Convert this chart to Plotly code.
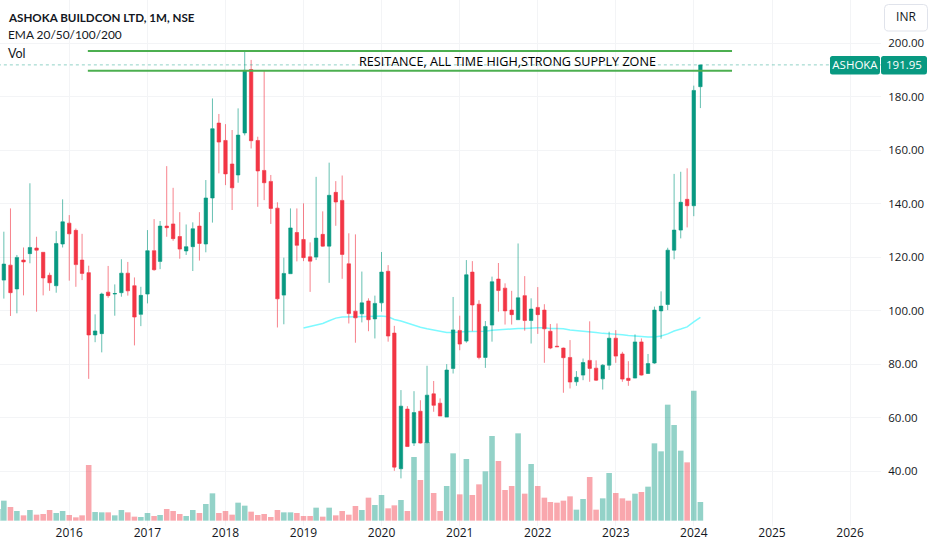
import pandas as pd
import plotly.graph_objects as go

# monthly bars, Mar 2015 to Feb 2024
dates = pd.date_range("2015-03-01", periods=108, freq="MS")
vol_dates = pd.date_range("2015-02-01", periods=109, freq="MS")

opens = [111.5, 117.1, 108.2, 119.0, 121.4, 123.5, 121.9, 113.3, 109.4, 125.0,
         132.8, 130.1, 119.0, 114.3, 91.0, 91.5, 107.0, 106.3, 106.8, 114.1, 109.4, 98.7,
         106.3, 122.5, 118.5, 131.7, 132.5, 127.8, 122.4, 124.0, 131.7, 125.0, 142.2, 170.2,
         163.7, 154.9, 150.8, 166.5, 190.2, 163.7, 152.5, 148.4, 138.4, 105.9, 113.9, 129.3,
         126.7, 120.2, 120.1, 128.6, 124.2, 144.3, 141.3, 117.6, 99.9, 98.9, 103.7, 97.0,
         103.0, 114.8, 91.7, 41.0, 63.3, 50.6, 62.5, 50.8, 69.0, 65.5, 60.3, 78.5,
         92.7, 88.7, 114.5, 102.5, 82.6, 94.7, 111.9, 108.5, 100.3, 96.7, 105.7, 96.4,
         101.3, 100.3, 92.4, 86.8, 86.1, 82.6, 73.5, 76.0, 81.5, 78.6, 74.6, 79.7,
         89.8, 83.9, 74.8, 74.9, 88.4, 76.6, 80.5, 100.0, 102.4, 122.7, 130.2, 141.7,
         139.3, 183.8]
highs = [129.6, 138.3, 120.9, 123.7, 147.7, 127.7, 121.9, 114.3, 129.8, 141.7,
         135.8, 130.8, 128.8, 116.9, 98.7, 106.8, 116.8, 109.9, 119.3, 118.3, 112.5, 109.0,
         130.2, 134.3, 133.6, 154.1, 146.0, 136.9, 132.3, 133.1, 136.9, 148.9, 179.4, 173.6,
         169.8, 167.6, 175.7, 196.9, 193.8, 165.1, 189.8, 150.8, 140.6, 119.9, 138.3, 138.3,
         140.2, 125.6, 150.1, 137.2, 155.4, 148.5, 150.6, 129.0, 128.6, 114.7, 104.7, 105.7,
         122.0, 117.1, 94.4, 70.4, 64.4, 70.0, 66.6, 79.5, 73.8, 67.3, 80.1, 105.2,
         98.2, 119.0, 118.6, 104.0, 96.2, 112.8, 117.9, 110.3, 107.5, 125.2, 113.0, 104.7,
         108.9, 102.5, 95.1, 95.3, 86.3, 89.1, 77.5, 82.2, 96.1, 81.5, 80.1, 92.2,
         92.8, 84.7, 81.2, 91.2, 89.7, 83.9, 101.6, 107.3, 123.6, 151.2, 152.0, 153.3,
         184.2, 191.95]
lows = [104.6, 98.1, 99.1, 105.8, 117.8, 99.7, 105.8, 107.5, 106.8, 123.7,
        111.3, 109.0, 111.5, 74.6, 88.3, 84.5, 104.9, 98.2, 105.3, 105.7, 87.1, 94.3,
        102.8, 115.0, 115.6, 127.7, 126.2, 119.5, 120.9, 114.9, 118.8, 121.9, 133.0, 151.4,
        147.0, 137.7, 147.9, 165.6, 160.7, 138.9, 141.4, 132.5, 93.8, 95.0, 113.9, 118.5,
        118.6, 107.1, 119.0, 124.0, 110.5, 131.8, 112.0, 95.3, 88.1, 95.7, 92.4, 89.7,
        99.7, 88.5, 40.2, 37.4, 49.2, 49.5, 50.4, 50.4, 62.3, 60.7, 60.3, 76.6,
        85.3, 88.1, 92.4, 81.9, 78.7, 88.5, 99.7, 94.9, 94.9, 96.6, 92.6, 87.8,
        91.4, 80.6, 85.7, 86.6, 69.4, 71.0, 72.0, 74.1, 73.5, 73.8, 70.6, 77.9,
        80.6, 73.5, 72.0, 74.8, 75.8, 76.4, 80.2, 89.6, 100.3, 119.3, 127.1, 131.2,
        135.4, 175.8]
closes = [117.5, 106.8, 120.0, 118.3, 123.7, 122.7, 112.3, 110.5, 125.2, 133.3,
          128.8, 117.3, 114.0, 91.0, 92.5, 106.3, 105.7, 106.5, 114.1, 107.5, 97.7, 105.8,
          122.5, 115.4, 131.7, 131.1, 127.0, 123.1, 124.0, 130.7, 125.2, 142.2, 168.1, 163.1,
          151.2, 146.0, 165.7, 189.9, 163.6, 152.3, 147.9, 138.3, 104.5, 114.0, 131.0, 124.5,
          119.9, 118.6, 127.2, 124.2, 143.2, 140.7, 121.1, 99.0, 97.4, 103.0, 96.7, 102.8,
          114.5, 90.6, 41.6, 64.4, 49.3, 62.0, 50.6, 68.5, 64.7, 60.7, 77.9, 92.9,
          87.6, 113.5, 102.2, 82.6, 94.2, 110.9, 107.6, 100.0, 98.6, 104.9, 96.4, 100.7,
          98.6, 93.3, 86.1, 86.6, 82.5, 73.4, 75.2, 80.7, 78.5, 74.1, 79.7, 89.8,
          83.1, 74.5, 74.0, 88.4, 76.0, 80.3, 100.3, 101.8, 122.7, 130.2, 140.6, 139.3,
          182.4, 191.95]
volumes = [35, 60, 41, 29, 16, 32, 18, 20, 32, 23, 29,
           17, 10, 16, 167, 26, 25, 25, 16, 32, 25, 12, 11,
           23, 14, 17, 35, 29, 20, 14, 32, 23, 50, 82, 23,
           29, 18, 54, 45, 27, 17, 20, 11, 32, 25, 25, 23,
           14, 14, 39, 12, 39, 16, 29, 18, 44, 32, 69, 47,
           77, 37, 46, 62, 29, 191, 122, 236, 83, 29, 104, 202,
           79, 185, 77, 109, 148, 254, 179, 92, 104, 262, 81, 170,
           104, 69, 56, 54, 60, 73, 33, 65, 131, 33, 67, 143,
           83, 67, 60, 81, 86, 102, 232, 208, 348, 287, 210, 175,
           390, 56]
# EMA line, Jan 2019 onwards
ema_dates = pd.date_range("2019-01-01", periods=62, freq="MS")
ema = [93.6, 94.2, 94.7, 95.3, 96.3, 97.3, 97.7, 97.7, 97.9, 97.9, 97.9, 98.0,
       98.1, 97.8, 96.8, 96.2, 95.4, 94.8, 93.9, 93.3, 92.8, 92.2, 91.9, 91.9,
       92.2, 92.3, 92.3, 92.4, 92.4, 92.8, 93.0, 93.2, 93.3, 93.4, 93.4, 93.6,
       93.7, 93.7, 93.4, 93.4, 93.3, 92.9, 92.7, 92.4, 92.2, 91.9, 91.6, 91.5,
       91.3, 91.1, 90.8, 90.6, 90.3, 90.2, 90.2, 90.6, 91.4, 92.5, 93.2, 94.0,
       95.9, 97.6]
level_x = ["2016-03-28", "2024-06-28"]
levels = [197.1, 189.8]
last_price = 191.95
price_ticks = [40, 60, 80, 100, 120, 140, 160, 180, 200]

UP = "#089981"
DOWN = "#F23645"
FONT = "Open Sans"
TEXT = "#131722"
PW, PH = 881.0, 526.0


def rounded(x0, y0, x1, y1, r=2.5):
    # pixel box to a paper-coordinate path with soft corners
    px = lambda v: f"{v / PW:.5f}"
    py = lambda v: f"{1 - v / PH:.5f}"
    return (f"M {px(x0 + r)} {py(y0)} L {px(x1 - r)} {py(y0)} Q {px(x1)} {py(y0)} {px(x1)} {py(y0 + r)} "
            f"L {px(x1)} {py(y1 - r)} Q {px(x1)} {py(y1)} {px(x1 - r)} {py(y1)} "
            f"L {px(x0 + r)} {py(y1)} Q {px(x0)} {py(y1)} {px(x0)} {py(y1 - r)} "
            f"L {px(x0)} {py(y0 + r)} Q {px(x0)} {py(y0)} {px(x0 + r)} {py(y0)} Z")


vol_colors = ["rgba(8,153,129,0.44)"] + [
    "rgba(8,153,129,0.44)" if c >= o else "rgba(242,54,69,0.44)" for o, c in zip(opens, closes)
]

fig = go.Figure()

fig.add_trace(go.Bar(x=vol_dates, y=volumes, marker=dict(color=vol_colors, line_width=0),
                     yaxis="y", hoverinfo="skip"))
fig.add_trace(go.Scatter(x=ema_dates, y=ema, mode="lines", yaxis="y2",
                         line=dict(color="#7DF9FF", width=1.5), hoverinfo="skip"))
fig.add_trace(go.Candlestick(x=dates, open=opens, high=highs, low=lows, close=closes, yaxis="y3",
                             whiskerwidth=0,
                             increasing=dict(fillcolor=UP, line=dict(color="rgba(8,153,129,0.62)", width=1)),
                             decreasing=dict(fillcolor=DOWN, line=dict(color="rgba(242,54,69,0.62)", width=1))))
for lv in levels:
    fig.add_trace(go.Scatter(x=level_x, y=[lv, lv], mode="lines", yaxis="y3",
                             line=dict(color="#4CAF50", width=2), hoverinfo="skip"))
fig.add_trace(go.Scatter(x=["2015-02-01", "2026-06-01"], y=[last_price, last_price], mode="lines", yaxis="y3",
                         line=dict(color="rgba(8,153,129,0.45)", width=1, dash="dot"), hoverinfo="skip"))

fig.update_layout(
    width=932, height=550,
    margin=dict(l=0, r=51, t=0, b=24, autoexpand=False),
    paper_bgcolor="white", plot_bgcolor="white",
    showlegend=False, bargap=0.07, boxgap=0.18,
    font=dict(family=FONT, color=TEXT, size=12),
    xaxis=dict(type="date", range=["2015-02-11", "2026-05-26"], dtick="M12", tick0="2016-01-01",
               tickformat="%Y", showgrid=True, gridcolor="#f3f4f6", gridwidth=1,
               zeroline=False, showline=False, ticks="", rangeslider_visible=False,
               ticklabelstandoff=-2, tickfont=dict(size=12, color=TEXT)),
    yaxis=dict(range=[-16, 1562], visible=False, fixedrange=True),
    yaxis2=dict(range=[19.6, 216.2], overlaying="y", visible=False),
    yaxis3=dict(range=[19.6, 216.2], overlaying="y", side="right", tickvals=price_ticks,
                tickformat=".2f", showgrid=True, gridcolor="#f3f4f6", gridwidth=1,
                zeroline=False, showline=False, ticks="outside", ticklen=4, tickcolor="rgba(0,0,0,0)",
                tickfont=dict(size=11.5, color=TEXT)),
)

# resistance label
fig.add_annotation(x="2021-08-13", y=193.2, xref="x", yref="y3", text="RESITANCE, ALL TIME HIGH,STRONG SUPPLY ZONE",
                   showarrow=False, font=dict(family=FONT, size=12.6, color="#000000"))

# header text, top left corner
for txt, y, size in [("<b>ASHOKA BUILDCON LTD, 1M, NSE</b>", 17, 11.6), ("EMA 20/50/100/200", 35, 11.9), ("Vol", 53, 12.5)]:
    fig.add_annotation(x=8 / PW, y=1 - y / PH, xref="paper", yref="paper", xanchor="left", yanchor="middle",
                       text=txt, showarrow=False, xshift=-2, font=dict(family="Lato", size=size, color=TEXT))

# price label + INR button on the right
fig.add_shape(type="path", path=rounded(830, 56, 880, 74.5), xref="paper", yref="paper",
              fillcolor=UP, line=dict(color=UP, width=0), layer="above",
              label=dict(text="ASHOKA", font=dict(size=11.5, color="white"), textposition="middle center"))
fig.add_shape(type="path", path=rounded(881, 56, 927, 74.5), xref="paper", yref="paper",
              fillcolor=UP, line=dict(color=UP, width=0), layer="above",
              label=dict(text="191.95", font=dict(size=11.5, color="white"), textposition="middle center"))
fig.add_shape(type="path", path=rounded(884.5, 4.5, 927.5, 31, 4), xref="paper", yref="paper",
              fillcolor="white", line=dict(color="#e0e3eb", width=1), layer="above",
              label=dict(text="INR", font=dict(size=12, color=TEXT), textposition="middle center"))

fig.write_html("out.html", config={"displayModeBar": False}, post_script="document.body.style.margin='0';")
